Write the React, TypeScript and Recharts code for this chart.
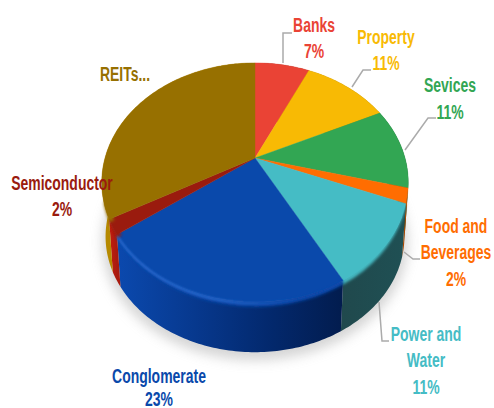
import React from "react";
import { PieChart, Pie } from "recharts";

// Portfolio split by sector, in clockwise order from twelve o'clock.
const sectors = ["Banks", "Property", "Sevices", "Food and Beverages", "Power and Water", "Conglomerate", "Semiconductor", "REITs..."];
const shares = [7, 11, 11, 2, 11, 23, 2, 33];
const printedShare = [true, true, true, true, true, true, true, false];

const topColors = ["#EA4335", "#F8BA04", "#32A653", "#FF6D01", "#45BCC5", "#0A49AB", "#9A1B0E", "#977000"];
const wallStops = [
  ["#8c2820", "#8c2820"],
  ["#94700a", "#94700a"],
  ["#1c6633", "#123f20"],
  ["#a84800", "#7a3400"],
  ["#20494d", "#1f5054"],
  ["#0B49AE", "#07398F", "#03296E", "#021C4E"],
  ["#C31D10", "#A81A0E"],
  ["#B58900", "#CC9C00"],
];

// Label text lines and leader lines, per sector.
const labelLayout = [
  { x: 314, ys: [25, 51], lead: "283,63 283,33 292,33" },
  { x: 386, ys: [37, 63], lead: "352,87 363,70 371,70" },
  { x: 450, ys: [85, 112], lead: "405,150 428,118 436,118" },
  { x: 456, ys: [226, 252, 279], lead: "404,252 413,259 420,259" },
  { x: 426, ys: [334, 360, 387], lead: "379,302 382,341 389,341" },
  { x: 159, ys: [376, 399], lead: "" },
  { x: 62, ys: [183, 209], lead: "" },
  { x: 125, ys: [74], lead: "" },
];
const labelLines = [["Banks"], ["Property"], ["Sevices"], ["Food and", "Beverages"], ["Power and", "Water"], ["Conglomerate"], ["Semiconductor"], ["REITs..."]];

const chartData = sectors.map((name, i) => ({ name, value: shares[i], fill: topColors[i] }));

const TILT = 0.205;
const SQUASH = 0.764;

// Perspective projection of a point on the pie's rim, angle in Recharts degrees.
function project(cx: number, cy: number, r: number, deg: number) {
  const phi = ((90 - deg) * Math.PI) / 180;
  const u = Math.sin(phi);
  const v = -Math.cos(phi);
  const d = 1 - TILT * v;
  return { x: cx + (r * u) / d, y: cy + (r * SQUASH * v) / d };
}

// Same rim point, dropped to the lower face of the disc.
function toBase(p: { x: number; y: number }, cx: number, cy: number) {
  return { x: cx + (p.x - cx) * 0.975, y: cy + 78 + (p.y - (cy + 24)) * 0.967 };
}

function rimPoints(cx: number, cy: number, r: number, start: number, end: number) {
  const n = Math.max(4, Math.ceil(Math.abs(end - start)));
  const pts = [];
  for (let i = 0; i <= n; i++) pts.push(project(cx, cy, r, start + ((end - start) * i) / n));
  return pts;
}

const toPath = (pts: { x: number; y: number }[]) =>
  pts.map((p, i) => `${i ? "L" : "M"}${p.x.toFixed(2)} ${p.y.toFixed(2)}`).join(" ");

const softFilter = (id: string, dev: number) => (
  <filter id={id} filterUnits="userSpaceOnUse" x="0" y="0" width="494" height="408">
    <feGaussianBlur stdDeviation={dev} />
  </filter>
);

function WallShape(props: any) {
  const { cx, cy, outerRadius, startAngle, endAngle, index } = props;
  const rim = rimPoints(cx, cy, outerRadius, startAngle, endAngle);
  const base = rim.map((p) => toBase(p, cx, cy)).reverse();
  const stops = wallStops[index];
  const xs = rim.map((p) => p.x);
  const id = `wall-${index}`;
  return (
    <g>
      <defs>
        {index === 0 && softFilter("pie-shadow", 6)}
        <linearGradient id={id} gradientUnits="userSpaceOnUse" x1={Math.min(...xs)} x2={Math.max(...xs)} y1="0" y2="0">
          {stops.map((c, i) => (
            <stop key={i} offset={i / (stops.length - 1)} stopColor={c} />
          ))}
        </linearGradient>
      </defs>
      {index === 0 && (
        <ellipse cx={cx} cy={cy + 84} rx={outerRadius * 1.02} ry={outerRadius * 0.79} fill="#c4c4c4" opacity={0.7} filter="url(#pie-shadow)" />
      )}
      <path d={`${toPath(rim)} ${toPath(base).replace("M", "L")} Z`} fill={`url(#${id})`} />
    </g>
  );
}

function TopShape(props: any) {
  const { cx, cy, outerRadius, startAngle, endAngle, fill, index } = props;
  const rim = rimPoints(cx, cy, outerRadius, startAngle, endAngle);
  const apex = `M${cx} ${cy}`;
  const lower = rim.filter((p) => p.y > cy + 40);
  const front = lower.map((p) => ({ x: cx + (p.x - cx) * 0.982, y: p.y + 2 }));
  const glow = lower.map((p) => ({ x: p.x, y: p.y + 1 }));
  return (
    <g>
      <defs>
        {index === 0 && softFilter("rim-soft", 1.6)}
        {index === 0 && softFilter("rim-glow", 1)}
        {index === 5 && (
          <linearGradient id="rim-light" gradientUnits="userSpaceOnUse" x1="120" x2="300" y1="0" y2="0">
            <stop offset="0" stopColor="#2A6CD2" />
            <stop offset="0.55" stopColor="#2A6CD2" />
            <stop offset="1" stopColor="#0A49AB" />
          </linearGradient>
        )}
      </defs>
      {front.length > 1 && (
        <path d={toPath(front)} fill="none" stroke={fill} strokeWidth={5} filter="url(#rim-soft)" />
      )}
      <path d={`${apex} ${toPath(rim).replace("M", "L")} Z`} fill={fill} stroke={fill} strokeWidth={0.4} />
      {index === 5 && (
        <path d={toPath(glow)} fill="none" stroke="url(#rim-light)" strokeWidth={2} filter="url(#rim-glow)" />
      )}
    </g>
  );
}

function SectorLabel(props: any) {
  const { index, value } = props;
  const layout = labelLayout[index];
  const lines = printedShare[index] ? [...labelLines[index], `${value}%`] : labelLines[index];
  return (
    <g>
      {layout.lead && <polyline points={layout.lead} fill="none" stroke="#ababab" strokeWidth={1.5} />}
      {lines.map((line, i) => (
        <text
          key={i}
          transform={`translate(${layout.x} ${layout.ys[i] + 7}) scale(0.665 1)`}
          textAnchor="middle"
          fill={topColors[index]}
          fontFamily="'Liberation Sans', Arial, sans-serif"
          fontWeight={700}
          fontSize={21}
        >
          {line}
        </text>
      ))}
    </g>
  );
}

export default function App() {
  return (
    <div style={{ position: "absolute", left: 0, top: 0, background: "#fff" }}>
      <PieChart width={494} height={408} margin={{ top: 0, right: 0, bottom: 0, left: 0 }}>
        <Pie
          data={chartData}
          dataKey="value"
          nameKey="name"
          cx={255}
          cy={158}
          outerRadius={150}
          startAngle={90}
          endAngle={-270}
          stroke="none"
          shape={WallShape}
          isAnimationActive={false}
        />
        <Pie
          data={chartData}
          dataKey="value"
          nameKey="name"
          cx={255}
          cy={158}
          outerRadius={150}
          startAngle={90}
          endAngle={-270}
          stroke="none"
          shape={TopShape}
          label={SectorLabel}
          labelLine={false}
          isAnimationActive={false}
        />
      </PieChart>
    </div>
  );
}
